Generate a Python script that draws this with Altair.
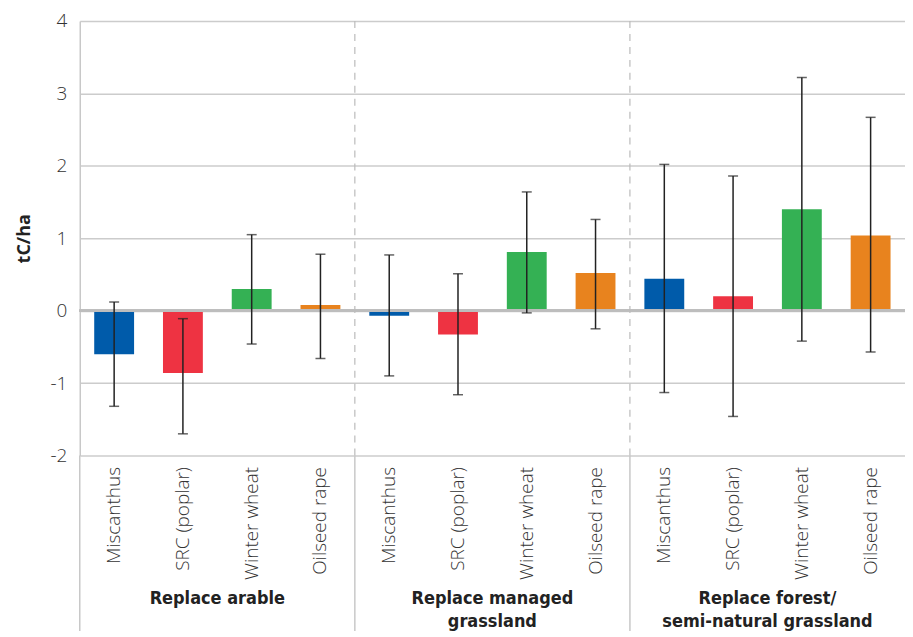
import altair as alt
import pandas as pd

groups = ["Replace arable", "Replace managed\ngrassland", "Replace forest/\nsemi-natural grassland"]
crops = ["Miscanthus", "SRC (poplar)", "Winter wheat", "Oilseed rape"]
colors = ["#005BAA", "#EE3342", "#34B154", "#E8831E"]

mean_arable = [-0.60, -0.86, 0.30, 0.08]
high_arable = [0.12, -0.11, 1.05, 0.78]
low_arable = [-1.32, -1.70, -0.46, -0.66]

mean_grass = [-0.07, -0.33, 0.81, 0.52]
high_grass = [0.77, 0.51, 1.64, 1.26]
low_grass = [-0.90, -1.16, -0.03, -0.25]

mean_forest = [0.44, 0.20, 1.40, 1.04]
high_forest = [2.02, 1.86, 3.22, 2.67]
low_forest = [-1.13, -1.46, -0.42, -0.57]

y_ticks = [-2, -1, 0, 1, 2, 3, 4]

means = [mean_arable, mean_grass, mean_forest]
highs = [high_arable, high_grass, high_forest]
lows = [low_arable, low_grass, low_forest]

rows = []
for gi, g in enumerate(groups):
    for ci, c in enumerate(crops):
        rows.append({"key": f"{gi}|{c}", "crop": c, "group": g,
                     "value": means[gi][ci], "hi": highs[gi][ci], "lo": lows[gi][ci]})
df = pd.DataFrame(rows)
keys = list(df["key"])

W, H = 828, 436
FONT = "Open Sans"
BOLD = "Liberation Sans Narrow, DejaVu Sans Condensed, sans-serif"

xaxis = alt.Axis(title=None, labelAngle=270, labelAlign="right", labelBaseline="middle",
                 labelExpr="split(datum.value,'|')[1]", labelFontSize=19,
                 labelColor="#333", labelFont=FONT, labelFontWeight=300,
                 labelPadding=11, ticks=False, domain=False)
xscale = alt.Scale(paddingInner=0.43, paddingOuter=0.215)
yaxis = alt.Axis(title="tC/ha", values=y_ticks, grid=True, gridColor="#cccccc", gridWidth=1.5,
                 domain=True, domainColor="#c8c8c8", domainWidth=1.5, ticks=False,
                 labelExpr="datum.value + ''",
                 labelFontSize=19, labelColor="#333", labelFont=FONT, labelFontWeight=300,
                 labelPadding=13, titleFont=FONT, titleFontSize=18, titleFontWeight="bold",
                 titleColor="#222", titleAngle=270, titleX=-55, titleY=H / 2,
                 titleAlign="center", titleBaseline="middle")
yscale = alt.Scale(domain=[-2, 4], nice=False)


def X():
    return alt.X("key:N", sort=keys, scale=xscale, axis=xaxis)


def Y(field):
    return alt.Y(field, scale=yscale, axis=yaxis)


base = alt.Chart(df)

bars = base.mark_bar(size=40).encode(
    x=X(), y=Y("value:Q"), y2=alt.datum(0),
    color=alt.Color("crop:N", scale=alt.Scale(domain=crops, range=colors), legend=None))

zero = base.mark_rule(color="#bdbdbd", strokeWidth=2.5).encode(
    y=alt.datum(0), x=alt.value(0), x2=alt.value(W))

err = base.mark_rule(color="#222", strokeWidth=1.5).encode(
    x=X(), y=Y("lo:Q"), y2="hi:Q")
cap_hi = base.mark_tick(color="#222", size=10, thickness=1.5, orient="horizontal").encode(
    x=X(), y=Y("hi:Q"))
cap_lo = base.mark_tick(color="#222", size=10, thickness=1.5, orient="horizontal").encode(
    x=X(), y=Y("lo:Q"))

gdf = pd.DataFrame({"b": [0, 1, 2], "c": [0.5, 1.5, 2.5], "g": groups})
gscale = alt.Scale(domain=[0, 3], nice=False)

sep_dash = alt.Chart(gdf[gdf["b"] > 0]).mark_rule(color="#bbbbbb", strokeWidth=1.2, strokeDash=[7, 6]).encode(
    x=alt.X("b:Q", scale=gscale, axis=None), y=alt.value(0), y2=alt.value(H))
sep_solid = alt.Chart(gdf).mark_rule(color="#c8c8c8", strokeWidth=1.5).encode(
    x=alt.X("b:Q", scale=gscale, axis=None), y=alt.value(H), y2=alt.value(H + 176))
glabels = alt.Chart(gdf).mark_text(font=BOLD, fontSize=18, fontWeight="bold", color="#222",
                                   lineBreak="\n", lineHeight=23, baseline="middle", align="center").encode(
    x=alt.X("c:Q", scale=gscale, axis=None), y=alt.value(H + 144), text="g:N")

band_layers = alt.layer(bars, zero, err, cap_hi, cap_lo)
group_layers = alt.layer(sep_dash, sep_solid, glabels)

chart = alt.layer(band_layers, group_layers).resolve_scale(x="independent").properties(
    width=W, height=H,
    padding={"left": 72, "top": 12, "right": 0, "bottom": 180},
    autosize=alt.AutoSizeParams(type="none"),
).configure_view(stroke=None)

chart.save("out.html", embed_options={"renderer": "svg", "actions": False})
